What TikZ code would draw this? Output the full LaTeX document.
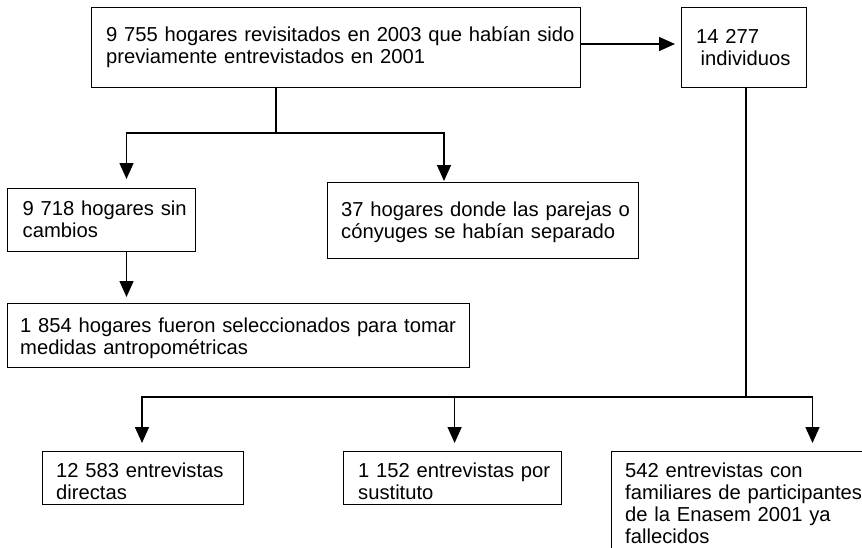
\documentclass[tikz,border=0pt]{standalone}
\usepackage{fontspec}
\setmainfont{Liberation Sans}
\usetikzlibrary{arrows.meta}
\begin{document}
\begin{tikzpicture}[x=1pt,y=-1pt,
  box/.style={draw=black, line width=1.2pt, anchor=north west, inner sep=0pt, rectangle},
  txt/.style={anchor=base west, inner sep=0pt, text width=520pt, align=left, font=\fontsize{20.2pt}{22pt}\selectfont},
  conn/.style={draw=black, line width=1.5pt},
  arr/.style={conn, -{Triangle[length=16pt,width=14pt]}}]
\useasboundingbox (0,0) rectangle (862,547);
\clip (0,0) rectangle (862,547);
% boxes
\node[box, minimum width=489pt, minimum height=80pt] (top) at (91,7) {};
\node[box, minimum width=125pt, minimum height=80pt] (ind) at (681,7) {};
\node[box, minimum width=188pt, minimum height=63pt] (b9718) at (7,188) {};
\node[box, minimum width=311pt, minimum height=76pt] (b37) at (327,182) {};
\node[box, minimum width=462pt, minimum height=64pt] (b1854) at (7,303) {};
\node[box, minimum width=201pt, minimum height=53pt] (b12583) at (42,451) {};
\node[box, minimum width=218pt, minimum height=53pt] (b1152) at (343,451) {};
\node[box, minimum width=300pt, minimum height=150pt] (b542) at (611,451) {};
% texts
\node[txt] (ttop) at (106,41.7) {9 755 hogares revisitados en 2003 que habían sido\\previamente entrevistados en 2001};
\node[txt] (tind) at (696,43.5) {14 277\\\hspace*{4.5pt}individuos};
\node[txt] (t9718) at (22.5,215.7) {9 718 hogares sin\\cambios};
\node[txt] (t37) at (341,216) {37 hogares donde las parejas o\\cónyuges se habían separado};
\node[txt] (t1854) at (20,332) {1 854 hogares fueron seleccionados para tomar\\medidas antropométricas};
\node[txt] (t12583) at (56,477.5) {12 583 entrevistas\\directas};
\node[txt] (t1152) at (358,477.5) {1 152 entrevistas por\\sustituto};
\node[txt] (t542) at (625,477.7) {542 entrevistas con\\familiares de participantes\\de la Enasem 2001 ya\\fallecidos};
% connectors
\coordinate (j1) at (276,133);
\coordinate (a9718) at (126.5,179);
\coordinate (a37) at (444,181);
\coordinate (aind) at (675,44);
\coordinate (a1854) at (126.5,297);
\coordinate (j2) at (746,397);
\coordinate (a12583) at (142,443);
\coordinate (a1152) at (454.6,443);
\coordinate (a542) at (812.5,443);
\draw[conn] (top.south -| j1) -- (j1);
\draw[arr] (j1) -| (a9718);
\draw[arr] (j1) -| (a37);
\draw[arr] (aind -| top.east) -- (aind);
\draw[arr] (b9718.south -| a1854) -- (a1854);
\draw[conn] (ind.south -| j2) -- (j2);
\draw[arr] (j2) -| (a12583);
\draw[arr] (j2) -| (a542);
\draw[arr] (a1152 |- j2) -- (a1152);
\end{tikzpicture}
\end{document}
